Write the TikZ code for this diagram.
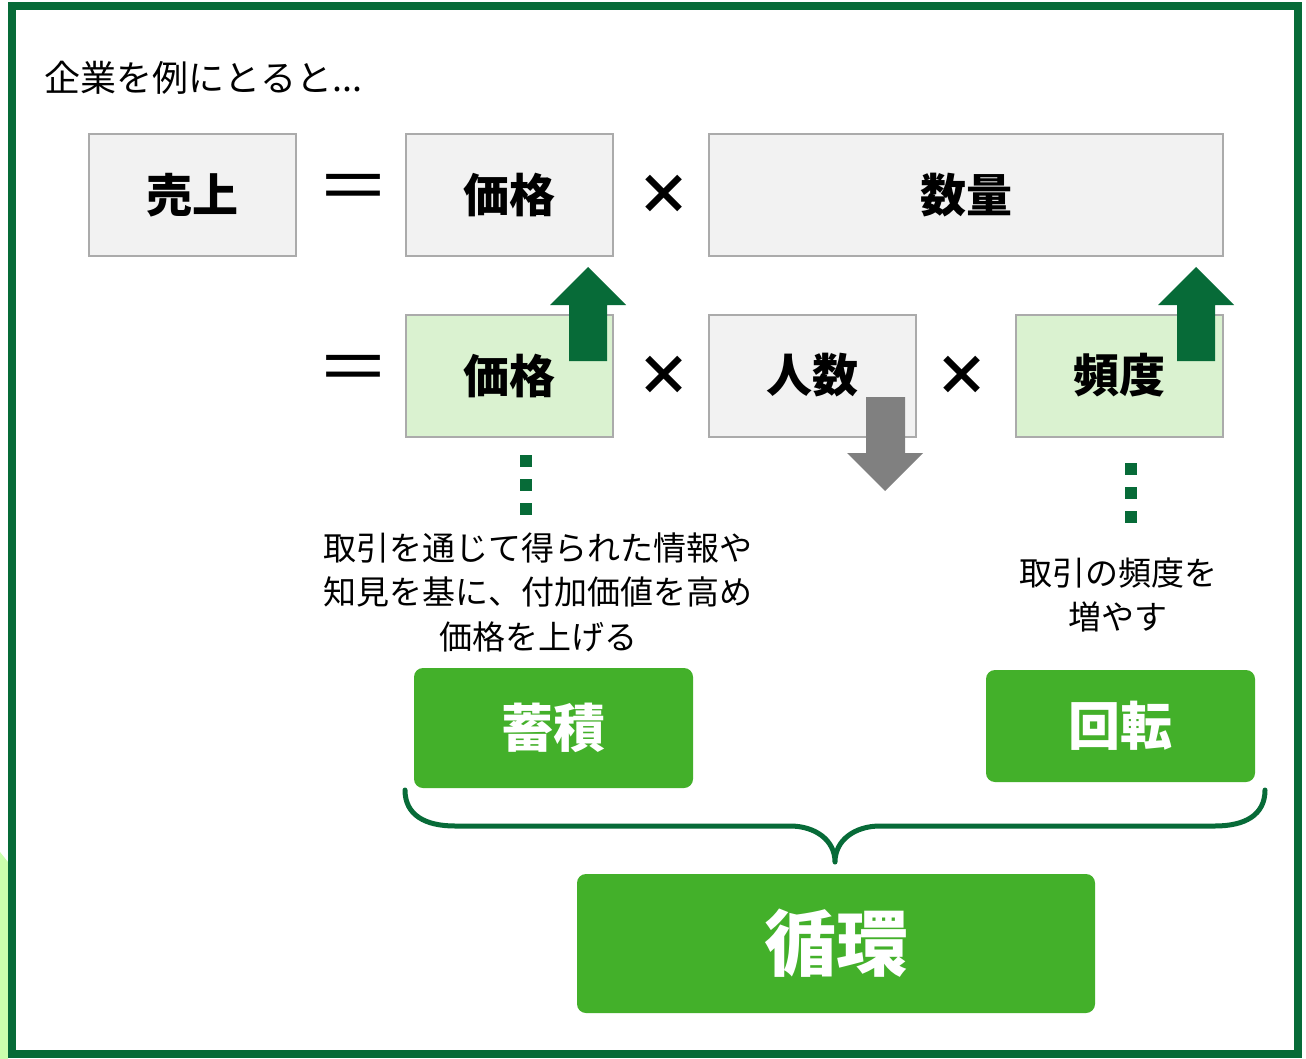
\documentclass[tikz,border=0pt]{standalone}
\usepackage{fontspec}
\newfontfamily\jp{Noto Sans CJK JP}
\definecolor{dgreen}{HTML}{076B38}
\definecolor{bgreen}{HTML}{43B02A}
\definecolor{lgreen}{HTML}{DAF2D0}
\definecolor{gfill}{HTML}{F2F2F2}
\definecolor{gline}{HTML}{ABABAB}
\definecolor{arrgray}{HTML}{808080}
\tikzset{
  graybox/.style={draw=gline, line width=2pt, fill=gfill, inner sep=0pt, minimum height=122pt,
     font=\jp\bfseries\fontsize{46}{50}\selectfont},
  greenbox/.style={graybox, fill=lgreen},
  solidbox/.style={fill=bgreen, rounded corners=9pt, inner sep=0pt, text=white,
     font=\jp\bfseries\fontsize{52}{56}\selectfont},
  op/.style={inner sep=0pt, font=\jp\bfseries\fontsize{55}{60}\selectfont},
  eqop/.style={inner sep=0pt, font=\jp\fontsize{74}{80}\selectfont},
  body/.style={inner sep=0pt, align=center, font=\jp\fontsize{33}{44.5}\selectfont},
  dotsq/.style={fill=dgreen},
  brace/.style={draw=dgreen, line width=5pt, line cap=round, line join=round}
}
\begin{document}
\begin{tikzpicture}[x=1pt,y=-1pt]
\useasboundingbox (0,0) rectangle (1306,1059);
\fill[white] (0,0) rectangle (1306,1059);
% left edge sliver
\fill[green!50!lime!40!white, opacity=0.8] (0,852) -- (8,862) -- (8,1059) -- (0,1059) -- cycle;
% frame
\draw[dgreen, line width=8pt] (12,6) rectangle (1298,1054);
% title
\node[anchor=west, inner sep=0pt, font=\jp\fontsize{36}{40}\selectfont] (title) at (44,78) {企業を例にとると...};
% row 1
\node[graybox, minimum width=207pt] (sales) at (192.5,195) {売上};
\node[eqop] (eq1) at (353,194) {＝};
\node[graybox, minimum width=207pt] (price1) at (509.5,195) {価格};
\node[op] (x1) at (664,195) {×};
\node[graybox, minimum width=514pt] (qty) at (966,195) {数量};
% row 2
\node[eqop] (eq2) at (353,375) {＝};
\node[greenbox, minimum width=207pt] (price2) at (509.5,375.5) {価格};
\node[op] (x2) at (664,376) {×};
\node[graybox, minimum width=207pt] (people) at (812.5,375.5) {人数};
\node[op] (x3) at (962,376) {×};
\node[greenbox, minimum width=207pt] (freq) at (1119.5,375.5) {頻度};
% arrows
\fill[dgreen] (569,361) -- (569,305) -- (550,305) -- (588,267) -- (626,305) -- (607,305) -- (607,361) -- cycle;
\fill[dgreen] (1177,361) -- (1177,305) -- (1158,305) -- (1196,267) -- (1234,305) -- (1215,305) -- (1215,361) -- cycle;
\fill[arrgray] (866,397) -- (905,397) -- (905,453) -- (923,453) -- (885,491) -- (847,453) -- (866,453) -- cycle;
% dots
\foreach \yy in {455,479,503} \fill[dotsq] (520,\yy) rectangle ++(12,12);
\foreach \yy in {463,487,511} \fill[dotsq] (1125,\yy) rectangle ++(12,12);
% texts
\node[body] (t1) at (538,592) {取引を通じて得られた情報や\\知見を基に、付加価値を高め\\価格を上げる};
\node[body] (t2) at (1118,595) {取引の頻度を\\増やす};
% green boxes
\node[solidbox, minimum width=279pt, minimum height=120pt] (accum) at (553.5,728) {蓄積};
\node[solidbox, minimum width=269pt, minimum height=112pt] (rot) at (1120.5,726) {回転};
\node[solidbox, minimum width=518pt, minimum height=139pt, font=\jp\bfseries\fontsize{72}{76}\selectfont] (cycle) at (836,943.5) {循環};
% brace
\coordinate (bl) at (405,790);
\coordinate (br) at (1265,790);
\coordinate (btip) at (835,862);
\draw[brace] (bl) .. controls (405,815) and (425,826) .. (455,826) -- (790,826)
   .. controls (815,826) and (835,840) .. (btip)
   .. controls (835,840) and (855,826) .. (880,826) -- (1215,826)
   .. controls (1245,826) and (1265,815) .. (br);
\end{tikzpicture}
\end{document}
